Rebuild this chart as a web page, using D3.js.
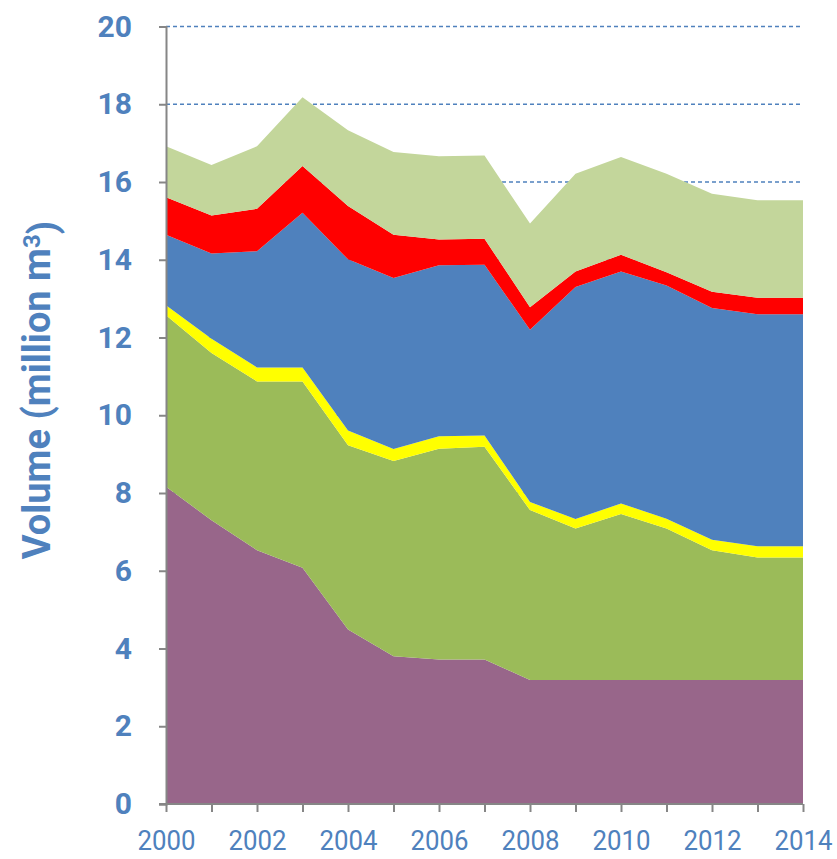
<!DOCTYPE html>
<html lang="en">
<head>
<meta charset="utf-8">
<script src="https://cdn.jsdelivr.net/npm/d3@7"></script>
<style>
  body { margin: 0; background: #fff; }
  .ytick text { font-family: Roboto, "DejaVu Sans", sans-serif; font-weight: bold; font-size: 30px; fill: #4f81bd; }
  .xtick text { font-family: Roboto, "Open Sans", sans-serif; font-size: 28px; fill: #4f81bd; }
  .axis-label { font-family: Roboto, "Open Sans", sans-serif; font-weight: bold; font-size: 38px; fill: #4f81bd; }
</style>
</head>
<body>
<div id="chart"></div>
<script>
var years = [2000,2001,2002,2003,2004,2005,2006,2007,2008,2009,2010,2011,2012,2013,2014];

// stacked from bottom to top
var purple = [8.16,7.30,6.53,6.08,4.49,3.80,3.72,3.72,3.19,3.19,3.19,3.19,3.19,3.19,3.19];
var green  = [4.41,4.30,4.34,4.79,4.74,5.02,5.42,5.47,4.37,3.90,4.27,3.90,3.34,3.15,3.15];
var yellow = [0.26,0.37,0.36,0.36,0.38,0.31,0.32,0.29,0.21,0.24,0.27,0.25,0.27,0.29,0.29];
var blue   = [1.81,2.19,2.99,3.98,4.40,4.40,4.40,4.39,4.43,5.97,5.97,6.00,5.96,5.97,5.97];
var red    = [0.97,0.98,1.09,1.20,1.37,1.11,0.66,0.67,0.58,0.40,0.43,0.34,0.42,0.42,0.42];
var light  = [1.31,1.30,1.61,1.77,1.95,2.13,2.14,2.14,2.15,2.51,2.51,2.53,2.52,2.51,2.51];

var keys = ["purple","green","yellow","blue","red","light"];
var colors = ["#98668a","#9bbb59","#ffff00","#4f81bd","#ff0000","#c3d69b"];

var yTicks = [0,2,4,6,8,10,12,14,16,18,20];
var xLabelYears = [2000,2002,2004,2006,2008,2010,2012,2014];

var table = years.map(function(y, i) {
  return {year: y, purple: purple[i], green: green[i], yellow: yellow[i], blue: blue[i], red: red[i], light: light[i]};
});

var width = 837, height = 859;
var margin = {top: 26.5, right: 34, bottom: 55, left: 166};

var svg = d3.select("#chart").append("svg")
  .attr("width", width)
  .attr("height", height);

var x = d3.scaleLinear()
  .domain([2000, 2014])
  .range([margin.left, width - margin.right]);

var y = d3.scaleLinear()
  .domain([0, 20])
  .range([height - margin.bottom, margin.top]);

// gridlines
svg.append("g")
  .selectAll("line")
  .data(yTicks.filter(function(d) { return d > 0; }))
  .enter().append("line")
    .attr("x1", x(2000))
    .attr("x2", x(2014))
    .attr("y1", function(d) { return y(d); })
    .attr("y2", function(d) { return y(d); })
    .attr("stroke", "#4f81bd")
    .attr("stroke-width", 1.3)
    .attr("stroke-dasharray", "4,3");

var stackedData = d3.stack().keys(keys)(table);
var color = d3.scaleOrdinal().domain(keys).range(colors);

var area = d3.area()
  .x(function(d) { return x(d.data.year); })
  .y0(function(d) { return y(d[0]); })
  .y1(function(d) { return y(d[1]); });

svg.append("g")
  .selectAll("path")
  .data(stackedData)
  .enter().append("path")
    .attr("fill", function(d) { return color(d.key); })
    .attr("d", area);

// y axis
var yAxis = d3.axisLeft(y)
  .tickValues(yTicks)
  .tickSize(7)
  .tickPadding(27)
  .tickFormat(d3.format("d"));

var yg = svg.append("g")
  .attr("class", "ytick")
  .attr("transform", "translate(" + margin.left + ",0)")
  .call(yAxis);
yg.select(".domain").attr("stroke", "#868686").attr("stroke-width", 2);
yg.selectAll(".tick line").attr("stroke", "#868686").attr("stroke-width", 2);

// x axis
var xAxis = d3.axisBottom(x)
  .tickValues(years)
  .tickSize(8)
  .tickPadding(18)
  .tickFormat(function(d) { return xLabelYears.indexOf(d) >= 0 ? d : ""; });

var xg = svg.append("g")
  .attr("class", "xtick")
  .attr("transform", "translate(0," + (height - margin.bottom) + ")")
  .call(xAxis);
xg.select(".domain").attr("stroke", "#868686").attr("stroke-width", 2)
  .attr("d", "M" + (margin.left - 7) + ",0H" + x(2014));
xg.selectAll(".tick line").attr("stroke", "#868686").attr("stroke-width", 2);
// squeeze the year labels to the narrow look of the original
xg.selectAll(".tick text")
  .filter(function(d) { return xLabelYears.indexOf(d) >= 0; })
  .attr("textLength", 58)
  .attr("lengthAdjust", "spacingAndGlyphs");

// axis title
var title = svg.append("text")
  .attr("class", "axis-label")
  .attr("transform", "translate(50,390) rotate(-90)")
  .attr("text-anchor", "middle")
  .text("Volume (million m");
title.append("tspan")
  .attr("dy", "-0.4em")
  .style("font-size", "24px")
  .text("3");
title.append("tspan")
  .attr("dy", "0.4em")
  .text(")");
</script>
</body>
</html>
